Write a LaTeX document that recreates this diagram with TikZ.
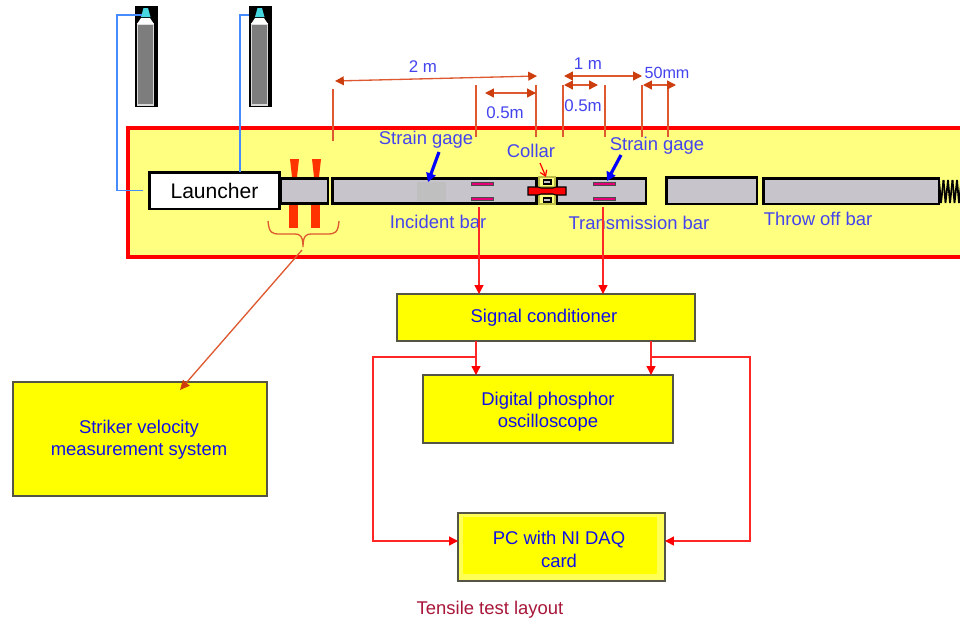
\documentclass[tikz,border=0pt]{standalone}
\usepackage{fontspec}
\setmainfont{Liberation Sans}
\usetikzlibrary{arrows.meta}
\definecolor{framefill}{RGB}{255,255,128}
\definecolor{barfill}{RGB}{200,196,204}
\definecolor{dimline}{RGB}{222,88,48}
\definecolor{dimtip}{RGB}{205,62,15}
\definecolor{labelblue}{RGB}{68,68,238}
\definecolor{boxblue}{RGB}{16,16,230}
\definecolor{wireblue}{RGB}{70,140,255}
\definecolor{sensorred}{RGB}{255,51,0}
\definecolor{gagepink}{RGB}{230,0,120}
\definecolor{boxline}{RGB}{85,85,70}
\definecolor{captionred}{RGB}{168,23,58}
\definecolor{boxyellow}{RGB}{255,255,0}
\definecolor{pcrim}{RGB}{255,255,85}
\definecolor{collarline}{RGB}{190,190,70}
\definecolor{capcyan}{RGB}{70,215,225}
\definecolor{bodygray}{RGB}{125,125,125}
\tikzset{
	barbox/.style = {draw=black, fill=barfill, line width=1.7pt, inner sep=0pt, outer sep=0pt},
	sysbox/.style = {draw=boxline, fill=boxyellow, line width=0.8pt, inner sep=0pt, outer sep=0pt},
	boxtext/.style = {align=center, text=boxblue, inner sep=0pt, font=\fontsize{10.5}{12.8}\selectfont},
	barlabel/.style = {text=labelblue, inner sep=0pt, font=\fontsize{10.5}{12.5}\selectfont},
	dimlabel/.style = {text=labelblue, inner sep=0pt, font=\fontsize{9.6}{11}\selectfont},
	dimtick/.style = {draw=dimline, line width=0.75pt},
	dimarrow/.style = {draw=dimline, line width=0.75pt, {Triangle[length=5pt,width=5pt,color=dimtip]}-{Triangle[length=5pt,width=5pt,color=dimtip]}},
	sigwire/.style = {draw=red!85!white, line width=0.75pt, -{Triangle[length=5pt,width=5pt,color=red]}},
	gaswire/.style = {draw=wireblue, line width=0.8pt},
	gagearrow/.style = {draw=blue, line width=1.8pt, -{Triangle[length=5pt,width=5.5pt]}},
}
\begin{document}
\begin{tikzpicture}[x=0.02cm,y=-0.02cm]
	\clip (0,0) rectangle (960,623);
	\fill[white] (0,0) rectangle (960,623);
	\draw[red, line width=2pt, fill=framefill] (128,128) rectangle (985,257);

	\foreach \bx/\bname in {146.5/bottlea,260.5/bottleb}{
		\node[fill=black, minimum width=0.46cm, minimum height=2.02cm, inner sep=0pt, outer sep=0pt] (\bname) at (\bx,56.5) {};
		\draw[white!85!black, line width=0.8pt, fill=bodygray] (\bx-9,24) rectangle (\bx+7,105);
		\fill[white] (\bx-9.5,24) -- (\bx-5.5,18) -- (\bx+3.5,18) -- (\bx+7.5,24) -- cycle;
		\fill[capcyan] (\bx-5.5,17) -- (\bx-3,8) -- (\bx+1.5,8) -- (\bx+4,17) -- cycle;
	}

	\foreach \sx in {293.5,315.5}
		\fill[sensorred] (\sx-4.5,205) rectangle (\sx+4.5,228);
	\node[barbox, fill=white, minimum width=2.62cm, minimum height=0.74cm, font=\fontsize{12}{14}\selectfont] (launcher) at (214.5,190.5) {Launcher};
	\node[barbox, minimum width=0.96cm, minimum height=0.5cm] (striker) at (304,191) {};
	\node[barbox, minimum width=4.1cm, minimum height=0.5cm] (incident) at (434.5,191) {};
	\node[barbox, minimum width=1.8cm, minimum height=0.5cm] (transmission) at (601,191) {};
	\node[barbox, minimum width=1.82cm, minimum height=0.54cm] (gapbar) at (711.5,190.5) {};
	\node[barbox, minimum width=3.52cm, minimum height=0.52cm] (throwoff) at (851,191) {};
	\fill[black!25] (417,182) rectangle (446,201);

	\foreach \x in {0,...,4}
		\draw[black, line width=1pt] (939+\x*4.5,180) -- (941+\x*4.5,203) -- (943.5+\x*4.5,180);

	\foreach \gx/\gy/\gname in {482/184/gagea,482/199/gageb,604.5/184/gagec,604.5/199/gaged}
		\node[draw=black!70, fill=gagepink, line width=0.5pt, minimum width=0.44cm, minimum height=0.07cm, inner sep=0pt, outer sep=0pt] (\gname) at (\gx,\gy) {};

	\foreach \cy/\iy in {182/182,199/200}{
		\draw[draw=collarline, fill=framefill, line width=0.6pt] (539,\cy-5) rectangle (555,\cy+5);
		\draw[black, fill=barfill, line width=0.9pt] (543.5,\iy-2) rectangle (551,\iy+2);
	}
	\draw[black, fill=red, line width=0.6pt] (528,187) -- (538,187) -- (541,188) -- (553,188) -- (556,187) -- (566,187) -- (566,195) -- (556,195) -- (553,194) -- (541,194) -- (538,195) -- (528,195) -- cycle;

	\foreach \sx in {294.5,316.5}
		\fill[sensorred] (\sx-4.5,159) -- (\sx+4.5,159) -- (\sx+2.5,177) -- (\sx-2.5,177) -- cycle;

	\draw[dimline, line width=0.75pt] (268,221) .. controls (269,233) and (272,234) .. (280,234) -- (295,234) .. controls (300,234) and (303,236) .. (303,247) .. controls (303,236) and (306,234) .. (311,234) -- (327,234) .. controls (335,234) and (338,233) .. (339,221);

	\foreach \tx/\ttop/\tbot in {333/89/141,476/85/137,536/85/137,563/85/137,605/85/137,642/85/137,668/85/137}
		\draw[dimtick] (\tx,\ttop) -- (\tx,\tbot);

	\coordinate (twoa) at (335,81);
	\coordinate (twob) at (537,76);
	\draw[dimarrow] (twoa) -- (twob);
	\coordinate (halfa) at (485,93);
	\coordinate (halfb) at (536,93);
	\draw[dimarrow] (halfa) -- (halfb);
	\coordinate (onea) at (564,76);
	\coordinate (oneb) at (642,76);
	\draw[dimarrow] (onea) -- (oneb);
	\coordinate (halfc) at (564,85);
	\coordinate (halfd) at (598,85);
	\draw[dimarrow] (halfc) -- (halfd);
	\coordinate (fifa) at (643,85);
	\coordinate (fifb) at (676,85);
	\draw[dimarrow] (fifa) -- (fifb);

	\node[dimlabel] (twolabel) at (423,67) {2 m};
	\node[dimlabel] (halflabela) at (505,113) {0.5m};
	\node[dimlabel] (onelabel) at (588,64) {1 m};
	\node[dimlabel] (halflabelb) at (583,106) {0.5m};
	\node[dimlabel, font=\fontsize{9.2}{11}\selectfont] (fiflabel) at (667,73) {50mm};

	\node[barlabel] (gagelabela) at (426,140) {Strain gage};
	\node[barlabel] (gagelabelb) at (657,146) {Strain gage};
	\node[barlabel] (collarlabel) at (531,151) {Collar};
	\node[barlabel] (incidentlabel) at (438,222) {Incident bar};
	\node[barlabel] (transmissionlabel) at (639,223) {Transmission bar};
	\node[barlabel] (throwofflabel) at (818,219) {Throw off bar};

	\coordinate (gagefroma) at (439,152);
	\coordinate (gagetoa) at (428,182);
	\draw[gagearrow] (gagefroma) -- (gagetoa);
	\coordinate (gagefromb) at (621,155);
	\coordinate (gagetob) at (607,181);
	\draw[gagearrow] (gagefromb) -- (gagetob);
	\coordinate (collarfrom) at (540,163);
	\coordinate (collarto) at (546,177);
	\draw[draw=red, line width=0.7pt, -{Straight Barb[length=3pt,width=4pt]}] (collarfrom) -- (collarto);

	\node[sysbox, minimum width=5.96cm, minimum height=0.94cm] (signal) at (546,317.5) {};
	\node[boxtext] (signaltext) at (544,318) {Signal conditioner};
	\node[sysbox, minimum width=5cm, minimum height=1.36cm] (scope) at (548,409) {};
	\node[boxtext] (scopetext) at (548,411.5) {Digital phosphor\\oscilloscope};
	\node[sysbox, fill=pcrim, minimum width=4.14cm, minimum height=1.36cm] (pc) at (561.5,547) {};
	\fill[boxyellow] (463,517) rectangle (657,574);
	\node[boxtext] (pctext) at (559,549.5) {PC with NI DAQ\\card};
	\node[sysbox, minimum width=5.08cm, minimum height=2.28cm] (velocity) at (140,439) {};
	\node[boxtext] (velocitytext) at (139,439.5) {Striker velocity\\measurement system};

	\coordinate (leada) at (479,207);
	\coordinate (leadb) at (603,207);
	\draw[sigwire] (leada) -- (leada |- signal.north);
	\draw[sigwire] (leadb) -- (leadb |- signal.north);
	\coordinate (brancha) at (476,357);
	\coordinate (branchb) at (651,357);
	\coordinate (cornera) at (373,357);
	\coordinate (cornerb) at (750,357);
	\coordinate (pcleft) at ([yshift=0.12cm]pc.west);
	\coordinate (pcright) at ([yshift=0.12cm]pc.east);
	\draw[sigwire] (brancha |- signal.south) -- (brancha |- scope.north);
	\draw[sigwire] (branchb |- signal.south) -- (branchb |- scope.north);
	\draw[sigwire] (brancha) -- (cornera) -- (cornera |- pcleft) -- (pcleft);
	\draw[sigwire] (branchb) -- (cornerb) -- (cornerb |- pcright) -- (pcright);

	\coordinate (bracetip) at (302,250);
	\coordinate (velocityin) at (180,390);
	\draw[draw=dimline, line width=0.75pt, -{Triangle[length=5.5pt,width=5pt,color=dimtip]}] (bracetip) -- (velocityin);

	\coordinate (gasa) at (117,15);
	\coordinate (gasb) at (240,15);
	\draw[gaswire] (142,15) -- (gasa) -- (gasa |- launcher.west) -- ([xshift=-0.12cm]launcher.west);
	\draw[gaswire] (bottleb.west |- gasb) -- (gasb) -- (gasb |- launcher.north);

	\node[text=captionred, inner sep=0pt, font=\fontsize{10.5}{12.5}\selectfont] (caption) at (490,610) {Tensile test layout};
\end{tikzpicture}
\end{document}
